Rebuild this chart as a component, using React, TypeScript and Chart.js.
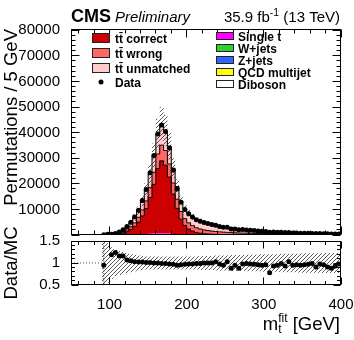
import React, { useEffect, useRef } from 'react';
import { Chart, registerables } from 'chart.js';

Chart.register(...registerables);

// ---------------- data ----------------
const binCenters = [92.5, 97.5, 102.5, 107.5, 112.5, 117.5, 122.5, 127.5, 132.5, 137.5, 142.5, 147.5, 152.5, 157.5, 162.5, 167.5, 172.5, 177.5, 182.5, 187.5, 192.5, 197.5, 202.5, 207.5, 212.5, 217.5, 222.5, 227.5, 232.5, 237.5, 242.5, 247.5, 252.5, 257.5, 262.5, 267.5, 272.5, 277.5, 282.5, 287.5, 292.5, 297.5, 302.5, 307.5, 312.5, 317.5, 322.5, 327.5, 332.5, 337.5, 342.5, 347.5, 352.5, 357.5, 362.5, 367.5, 372.5, 377.5, 382.5, 387.5, 392.5, 397.5];
const histLowEdge = 90;
const histHighEdge = 400;

const dataCounts = [105, 250, 320, 550, 1150, 2100, 3300, 5000, 7000, 9700, 13500, 17800, 24300, 31100, 39500, 43000, 40400, 34000, 25300, 18000, 12800, 10000, 8300, 7000, 6000, 5400, 4900, 4480, 4100, 3850, 3360, 3000, 3010, 2380, 2390, 2060, 2130, 2000, 1840, 1710, 1580, 1470, 1390, 1050, 1150, 1090, 1060, 930, 960, 830, 780, 730, 690, 660, 630, 550, 560, 520, 470, 430, 430, 435];

const ttCorrect = [15, 26, 50, 100, 280, 600, 1170, 2040, 3200, 4850, 7150, 9940, 14180, 19200, 25300, 28300, 26600, 22100, 15600, 10100, 5950, 3550, 2200, 1400, 880, 580, 400, 290, 220, 170, 140, 115, 95, 80, 70, 60, 52, 46, 41, 37, 34, 31, 29, 27, 25, 23, 21, 20, 19, 17, 16, 15, 14, 14, 13, 12, 11, 11, 10, 10, 9, 9];
const ttWrong = [33, 48, 80, 125, 260, 440, 700, 1020, 1370, 1800, 2350, 3000, 3850, 4700, 5700, 6100, 5750, 5100, 4300, 3600, 3000, 2650, 2400, 2150, 1850, 1650, 1480, 1350, 1230, 1120, 1030, 950, 875, 810, 755, 700, 650, 605, 565, 528, 495, 465, 435, 405, 372, 345, 321, 300, 279, 261, 245, 230, 216, 204, 192, 182, 171, 162, 155, 147, 140, 134];
const ttUnmatched = [52, 72, 118, 185, 395, 690, 1100, 1560, 2050, 2630, 3440, 4300, 5550, 6600, 7850, 8330, 7790, 6930, 5760, 4920, 4130, 3910, 3700, 3450, 3210, 3110, 2920, 2750, 2570, 2375, 2190, 2030, 1890, 1765, 1645, 1535, 1425, 1329, 1237, 1160, 1088, 1023, 957, 891, 818, 759, 707, 660, 614, 575, 538, 505, 476, 449, 422, 399, 377, 356, 340, 323, 307, 293];
const singleTop = [6, 8, 13, 21, 33, 48, 66, 84, 108, 138, 180, 228, 288, 360, 390, 420, 402, 336, 252, 198, 150, 120, 102, 84, 72, 66, 60, 54, 48, 45, 42, 39, 36, 33, 30, 27, 26, 24, 22, 21, 20, 19, 17, 16, 15, 14, 13, 12, 11, 10, 10, 9, 8, 8, 8, 7, 7, 7, 6, 6, 5, 5];
const wJets = [2, 3, 4, 7, 11, 16, 22, 28, 36, 46, 60, 76, 96, 120, 130, 140, 134, 112, 84, 66, 50, 40, 34, 28, 24, 22, 20, 18, 16, 15, 14, 13, 12, 11, 10, 9, 9, 8, 7, 7, 7, 6, 6, 5, 5, 5, 4, 4, 4, 3, 3, 3, 3, 3, 3, 2, 2, 2, 2, 2, 2, 2];
const zJets = [1, 1, 1, 2, 3, 4, 6, 7, 9, 12, 15, 19, 24, 30, 33, 35, 34, 28, 21, 17, 13, 10, 9, 7, 6, 6, 5, 5, 4, 4, 4, 3, 3, 3, 3, 2, 2, 2, 2, 2, 2, 2, 1, 1, 1, 1, 1, 1, 1, 1, 1, 1, 1, 1, 1, 1, 1, 1, 1, 1, 1, 1];
const qcdMultijet = [1, 2, 3, 4, 6, 9, 12, 16, 21, 26, 35, 44, 55, 69, 75, 81, 77, 65, 48, 38, 29, 23, 19, 16, 14, 12, 11, 10, 9, 8, 8, 8, 7, 6, 5, 5, 5, 5, 4, 4, 3, 3, 4, 4, 3, 2, 2, 2, 2, 2, 2, 2, 2, 1, 1, 2, 1, 1, 1, 1, 1, 1];
const diboson = [0, 0, 1, 1, 2, 3, 4, 5, 6, 8, 10, 13, 17, 21, 22, 24, 23, 19, 15, 11, 8, 7, 6, 5, 4, 4, 4, 3, 3, 3, 2, 2, 2, 2, 2, 2, 1, 1, 2, 1, 1, 1, 1, 1, 1, 1, 1, 1, 0, 1, 0, 0, 0, 0, 0, 0, 0, 0, 0, 0, 0, 0];

// relative MC uncertainty (hatched band)
const mcRelUnc = [0.5, 0.45, 0.36, 0.3, 0.27, 0.25, 0.23, 0.21, 0.19, 0.17, 0.16, 0.15, 0.15, 0.15, 0.15, 0.15, 0.15, 0.15, 0.15, 0.15, 0.15, 0.15, 0.15, 0.15, 0.15, 0.16, 0.16, 0.16, 0.16, 0.17, 0.17, 0.17, 0.17, 0.18, 0.18, 0.18, 0.18, 0.19, 0.19, 0.19, 0.19, 0.2, 0.2, 0.2, 0.2, 0.2, 0.21, 0.21, 0.21, 0.21, 0.21, 0.22, 0.22, 0.22, 0.22, 0.22, 0.22, 0.23, 0.23, 0.23, 0.23, 0.23];

const dataOverMC = [0.95, null, 1.19, 1.24, 1.16, 1.16, 1.07, 1.05, 1.03, 1.02, 1.02, 1.01, 1.01, 1.0, 1.0, 0.99, 0.99, 0.98, 0.97, 0.95, 0.96, 0.97, 0.98, 0.98, 0.99, 0.99, 1.0, 1.0, 1.0, 1.03, 0.98, 0.95, 1.03, 0.88, 0.95, 0.88, 0.98, 0.99, 0.98, 0.97, 0.96, 0.95, 0.96, 0.78, 0.93, 0.95, 0.99, 0.93, 1.03, 0.95, 0.96, 0.95, 0.96, 0.97, 0.99, 0.91, 0.98, 0.96, 0.91, 0.88, 0.93, 0.98];
const firstRatioErr = 0.6;

const xRange = [50, 400];
const xTickValues = [100, 200, 300, 400];
const yMainMax = 80500;
const yMainTickValues = [10000, 20000, 30000, 40000, 50000, 60000, 70000, 80000];
const ratioRange = [0.5, 1.5];
const ratioTickValues = [0.5, 1, 1.5];

// ---------------- style ----------------
const FONT = "'Liberation Sans', Arial, Helvetica, sans-serif";
const CLEAR = 'rgba(0,0,0,0)';
const TTBAR = 'tt\u0304';

const mcLayers = [
  { label: 'Diboson', values: diboson, color: '#ffffff', outline: false },
  { label: 'QCD multijet', values: qcdMultijet, color: '#ffff00', outline: false },
  { label: 'Z+jets', values: zJets, color: '#3366ff', outline: false },
  { label: 'W+jets', values: wJets, color: '#33cc33', outline: false },
  { label: 'Single t', values: singleTop, color: '#ff00ff', outline: false },
  { label: TTBAR + ' correct', values: ttCorrect, color: '#cc0000', outline: true },
  { label: TTBAR + ' wrong', values: ttWrong, color: '#ff6666', outline: true },
  { label: TTBAR + ' unmatched', values: ttUnmatched, color: '#ffcccc', outline: true },
];

function histPoints(values: number[]) {
  return [
    { x: histLowEdge, y: values[0] },
    ...binCenters.map((x, i) => ({ x, y: values[i] })),
    { x: histHighEdge, y: values[values.length - 1] },
  ];
}

function makeHatch(ctx: CanvasRenderingContext2D) {
  const c = document.createElement('canvas');
  c.width = 4;
  c.height = 4;
  const g = c.getContext('2d')!;
  g.strokeStyle = 'rgba(40,40,40,0.85)';
  g.lineWidth = 0.9;
  g.beginPath();
  g.moveTo(0, 4); g.lineTo(4, 0);
  g.moveTo(-1, 1); g.lineTo(1, -1);
  g.moveTo(3, 5); g.lineTo(5, 3);
  g.stroke();
  return ctx.createPattern(c, 'repeat');
}

const rootFrame = {
  id: 'rootFrame',
  afterDatasetsDraw(chart: any, _a: any, o: any) {
    const { ctx, chartArea } = chart;
    const xs = chart.scales.x;
    const ys = chart.scales.y;
    const L = chartArea.left + 0.5;
    const R = chartArea.right - 0.5;
    const T = chartArea.top + 0.5;
    const B = chartArea.bottom - 0.5;
    ctx.save();
    ctx.strokeStyle = '#000';
    ctx.lineWidth = 1;
    ctx.beginPath();
    for (let k = 0; ; k++) {
      const v = o.xFrom + k * o.xStep;
      if (v > xs.max + 1e-6) break;
      const major = Math.abs(v / o.xMajor - Math.round(v / o.xMajor)) < 1e-6;
      const len = major ? o.majLen : o.minLen;
      const p = Math.floor(xs.getPixelForValue(v)) + 0.5;
      ctx.moveTo(p, B); ctx.lineTo(p, B - len);
      ctx.moveTo(p, T); ctx.lineTo(p, T + len);
    }
    for (let k = 0; ; k++) {
      const v = o.yFrom + k * o.yStep;
      if (v > ys.max + 1e-6) break;
      const major = Math.abs(v / o.yMajor - Math.round(v / o.yMajor)) < 1e-6;
      const len = major ? o.majLen : o.minLen;
      const p = Math.floor(ys.getPixelForValue(v)) + 0.5;
      ctx.moveTo(L, p); ctx.lineTo(L + len, p);
      ctx.moveTo(R, p); ctx.lineTo(R - len, p);
    }
    ctx.stroke();
    ctx.strokeRect(L, T, R - L, B - T);
    ctx.restore();
  },
};

const mainText = {
  id: 'mainText',
  afterDraw(chart: any) {
    const { ctx, chartArea } = chart;
    ctx.save();
    ctx.fillStyle = '#000';
    ctx.textBaseline = 'alphabetic';
    ctx.textAlign = 'left';
    // header
    ctx.font = `bold 18px ${FONT}`;
    ctx.fillText('CMS', chartArea.left, 22);
    ctx.font = `italic 15px ${FONT}`;
    ctx.fillText('Preliminary', 115, 22);
    const p1 = '35.9 fb';
    const p2 = '-1';
    const p3 = ' (13 TeV)';
    ctx.font = `15px ${FONT}`;
    const w1 = ctx.measureText(p1).width;
    const w3 = ctx.measureText(p3).width;
    ctx.font = `10.5px ${FONT}`;
    const w2 = ctx.measureText(p2).width;
    let x = chartArea.right - 1 - (w1 + w2 + w3);
    ctx.font = `15px ${FONT}`;
    ctx.fillText(p1, x, 22);
    ctx.font = `10.5px ${FONT}`;
    ctx.fillText(p2, x + w1, 16);
    ctx.font = `15px ${FONT}`;
    ctx.fillText(p3, x + w1 + w2, 22);

    // legend
    ctx.font = `bold 12px ${FONT}`;
    ctx.lineWidth = 1;
    ctx.strokeStyle = '#222';
    const left = [mcLayers[5], mcLayers[6], mcLayers[7]];
    const leftY = [38, 53, 68];
    left.forEach((l, i) => {
      const cy = leftY[i];
      ctx.fillStyle = l.color;
      ctx.fillRect(92, cy - 5, 18, 10);
      ctx.strokeRect(92.5, cy - 4.5, 17, 9);
      ctx.fillStyle = '#000';
      ctx.fillText(l.label, 115, cy + 4.5);
    });
    ctx.beginPath();
    ctx.arc(101, 82, 2.5, 0, Math.PI * 2);
    ctx.fill();
    ctx.fillText('Data', 115, 86.5);
    const right = [mcLayers[4], mcLayers[3], mcLayers[2], mcLayers[1], mcLayers[0]];
    const rightY = [36, 48, 60, 72, 84];
    right.forEach((l, i) => {
      const cy = rightY[i];
      ctx.fillStyle = l.color;
      ctx.fillRect(216, cy - 4, 18, 8);
      ctx.strokeRect(216.5, cy - 3.5, 17, 7);
      ctx.fillStyle = '#000';
      ctx.fillText(l.label, 238, cy + 4.5);
    });
    ctx.restore();
  },
};

const ratioText = {
  id: 'ratioText',
  afterDraw(chart: any) {
    const { ctx, chartArea } = chart;
    ctx.save();
    ctx.fillStyle = '#000';
    ctx.textBaseline = 'alphabetic';
    ctx.textAlign = 'left';
    const big = `18.5px ${FONT}`;
    const small = `12px ${FONT}`;
    ctx.font = big;
    const wm = ctx.measureText('m').width;
    const wg = ctx.measureText(' [GeV]').width;
    ctx.font = small;
    const ws = ctx.measureText('fit').width;
    const x0 = chartArea.right - 1 - (wm + ws + wg);
    const yb = 114.5;
    ctx.font = big;
    ctx.fillText('m', x0, yb);
    ctx.font = small;
    ctx.fillText('fit', x0 + wm, yb - 7.5);
    ctx.fillText('t', x0 + wm, yb + 3);
    ctx.font = big;
    ctx.fillText(' [GeV]', x0 + wm + ws, yb);
    ctx.restore();
  },
};

export default function App() {
  const mainRef = useRef<HTMLCanvasElement>(null);
  const ratioRef = useRef<HTMLCanvasElement>(null);

  useEffect(() => {
    const mainCanvas = mainRef.current!;
    const ratioCanvas = ratioRef.current!;
    const hatchMain = makeHatch(mainCanvas.getContext('2d')!);
    const hatchRatio = makeHatch(ratioCanvas.getContext('2d')!);

    const totalMC = binCenters.map((_, i) => mcLayers.reduce((s, l) => s + l.values[i], 0));
    const bandLo = totalMC.map((t, i) => t * (1 - mcRelUnc[i]));
    const bandHi = totalMC.map((t, i) => t * (1 + mcRelUnc[i]));

    const mcDatasets = mcLayers.map((l, i) => ({
      type: 'line',
      label: l.label,
      data: histPoints(l.values),
      stack: 'mc',
      order: 2,
      stepped: 'middle',
      fill: i === 0 ? 'origin' : '-1',
      backgroundColor: l.color,
      borderColor: l.outline ? '#000' : CLEAR,
      borderWidth: l.outline ? 1 : 0,
      pointRadius: 0,
    }));

    const main = new Chart(mainCanvas, {
      type: 'line',
      data: {
        datasets: [
          ...mcDatasets,
          {
            type: 'line', label: 'unc lo', data: histPoints(bandLo), stack: 'bandLo', order: 1,
            stepped: 'middle', fill: false, borderColor: CLEAR, borderWidth: 0, pointRadius: 0,
          },
          {
            type: 'line', label: 'unc hi', data: histPoints(bandHi), stack: 'bandHi', order: 1,
            stepped: 'middle', fill: '-1', backgroundColor: hatchMain, borderColor: CLEAR, borderWidth: 0, pointRadius: 0,
          },
          {
            type: 'line', label: 'Data', data: binCenters.map((x, i) => ({ x, y: dataCounts[i] })), stack: 'data', order: 0,
            showLine: false, pointRadius: 2.5, pointBackgroundColor: '#000', pointBorderWidth: 0, borderColor: '#000',
          },
        ] as any,
      },
      options: {
        responsive: false,
        animation: false,
        devicePixelRatio: 1,
        events: [],
        layout: { padding: { left: 0, right: 13, top: 29, bottom: 1 } },
        plugins: {
          legend: { display: false },
          tooltip: { enabled: false },
          rootFrame: { xFrom: 60, xStep: 20, xMajor: 100, yFrom: 0, yStep: 2000, yMajor: 10000, majLen: 8, minLen: 4 },
        } as any,
        scales: {
          x: { type: 'linear', min: xRange[0], max: xRange[1], display: false },
          y: {
            type: 'linear', min: 0, max: yMainMax, stacked: true,
            afterBuildTicks: (s: any) => { s.ticks = yMainTickValues.map((v) => ({ value: v })); },
            afterFit: (s: any) => { s.width = 71; s.paddingTop = 0; s.paddingBottom = 0; },
            ticks: { font: { family: FONT, size: 15 }, color: '#000', padding: 3, callback: (v: any) => String(v) },
            grid: { display: false },
            border: { display: false },
            title: {
              display: true, text: 'Permutations / 5 GeV', align: 'end', color: '#000',
              font: { family: FONT, size: 18.5 }, padding: { top: 1, bottom: 0 },
            },
          },
        } as any,
      },
      plugins: [rootFrame, mainText],
    } as any);

    const ratio = new Chart(ratioCanvas, {
      type: 'line',
      data: {
        datasets: [
          {
            label: 'unc lo', data: histPoints(mcRelUnc.map((u) => 1 - u)), stepped: 'middle', fill: false,
            borderColor: CLEAR, borderWidth: 0, pointRadius: 0, order: 2,
          },
          {
            label: 'unc hi', data: histPoints(mcRelUnc.map((u) => 1 + u)), stepped: 'middle', fill: '-1',
            backgroundColor: hatchRatio, borderColor: CLEAR, borderWidth: 0, pointRadius: 0, order: 2,
          },
          {
            label: 'unity', data: [{ x: xRange[0], y: 1 }, { x: histLowEdge, y: 1 }], borderColor: '#444',
            borderWidth: 1, borderDash: [1, 2], pointRadius: 0, fill: false, order: 1,
          },
          {
            label: 'first err', data: [
              { x: binCenters[0], y: (dataOverMC[0] as number) - firstRatioErr },
              { x: binCenters[0], y: (dataOverMC[0] as number) + firstRatioErr },
            ], borderColor: '#222', borderWidth: 1, borderDash: [1, 1.5], pointRadius: 0, fill: false, order: 1,
          },
          {
            label: 'Data/MC', data: binCenters.map((x, i) => ({ x, y: dataOverMC[i] })), showLine: false,
            pointRadius: 2.5, pointBackgroundColor: '#000', pointBorderWidth: 0, borderColor: '#000', order: 0,
          },
        ] as any,
      },
      options: {
        responsive: false,
        animation: false,
        devicePixelRatio: 1,
        events: [],
        layout: { padding: { left: 0, right: 13, top: 26, bottom: 0 } },
        plugins: {
          legend: { display: false },
          tooltip: { enabled: false },
          rootFrame: { xFrom: 60, xStep: 20, xMajor: 100, yFrom: 0.5, yStep: 0.1, yMajor: 0.5, majLen: 7, minLen: 3.5 },
        } as any,
        scales: {
          x: {
            type: 'linear', min: xRange[0], max: xRange[1], position: 'bottom',
            afterBuildTicks: (s: any) => { s.ticks = xTickValues.map((v) => ({ value: v })); },
            afterFit: (s: any) => { s.height = 55; s.paddingLeft = 0; s.paddingRight = 0; },
            ticks: { font: { family: FONT, size: 15 }, color: '#000', padding: 2.5, maxRotation: 0, autoSkip: false, callback: (v: any) => String(v) },
            grid: { display: false },
            border: { display: false },
          },
          y: {
            type: 'linear', min: ratioRange[0], max: ratioRange[1],
            afterBuildTicks: (s: any) => { s.ticks = ratioTickValues.map((v) => ({ value: v })); },
            afterFit: (s: any) => { s.width = 71; s.paddingTop = 0; s.paddingBottom = 0; },
            ticks: { font: { family: FONT, size: 15 }, color: '#000', padding: 3, callback: (v: any) => String(v) },
            grid: { display: false },
            border: { display: false },
            title: {
              display: true, text: 'Data/MC', align: 'center', color: '#000',
              font: { family: FONT, size: 18.5 }, padding: { top: 1, bottom: 0 },
            },
          },
        } as any,
      },
      plugins: [rootFrame, ratioText],
    } as any);

    return () => {
      main.destroy();
      ratio.destroy();
    };
  }, []);

  return (
    <div style={{ position: 'absolute', left: 0, top: 0, width: 354, height: 340, background: '#fff', overflow: 'hidden' }}>
      <canvas ref={mainRef} width={354} height={239} style={{ position: 'absolute', left: 0, top: 0, width: 354, height: 239 }} />
      <canvas ref={ratioRef} width={354} height={125} style={{ position: 'absolute', left: 0, top: 215, width: 354, height: 125 }} />
    </div>
  );
}
